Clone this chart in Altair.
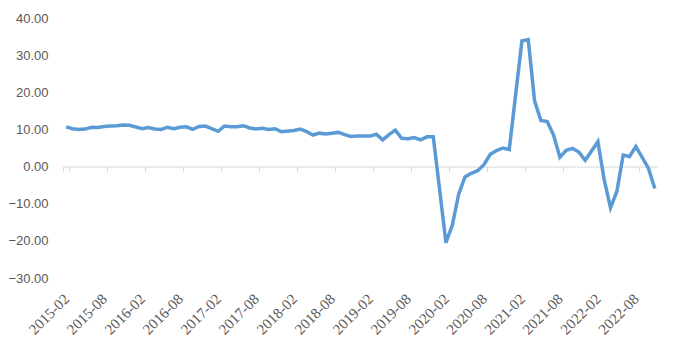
import altair as alt
import pandas as pd

years = list(range(2015, 2023))
months = [f"{y}-{m:02d}" for y in years for m in range(1, 13)]
months = [m for m in months if "2015-02" <= m <= "2022-11"]

# China retail sales YoY (%); January blank (combined Jan-Feb)
values = [
    10.7, 10.2, 10.0, 10.1, 10.6, 10.5, 10.8, 10.9, 11.0, 11.2, 11.1,          # 2015-02..12
    None, 10.2, 10.5, 10.1, 10.0, 10.6, 10.2, 10.6, 10.7, 10.0, 10.8, 10.9,    # 2016
    None, 9.5, 10.9, 10.7, 10.7, 11.0, 10.4, 10.1, 10.3, 10.0, 10.2, 9.4,      # 2017
    None, 9.7, 10.1, 9.4, 8.5, 9.0, 8.8, 9.0, 9.2, 8.6, 8.1, 8.2,              # 2018
    None, 8.2, 8.7, 7.2, 8.6, 9.8, 7.6, 7.5, 7.8, 7.2, 8.0, 8.0,               # 2019
    None, -20.5, -15.8, -7.5, -2.8, -1.8, -1.1, 0.5, 3.3, 4.3, 5.0, 4.6,       # 2020
    None, 33.8, 34.2, 17.7, 12.4, 12.1, 8.5, 2.5, 4.4, 4.9, 3.9, 1.7,          # 2021
    None, 6.7, -3.5, -11.1, -6.7, 3.1, 2.7, 5.4, 2.5, -0.5, -5.9,              # 2022-01..11
]
tick_labels = months[::6]
y_ticks = [-30, -20, -10, 0, 10, 20, 30, 40]

df = pd.DataFrame({"month": months, "value": values}).dropna()

W, H = 595, 260
zero_from_bottom = H * 30 / 70

chart = alt.Chart(df).mark_line(color="#5B9BD5", strokeWidth=3.5).encode(
    x=alt.X(
        "month:O",
        bandPosition=0.5,
        scale=alt.Scale(type="band", domain=months, paddingInner=0, paddingOuter=0),
        axis=alt.Axis(
            values=tick_labels,
            title=None,
            offset=-zero_from_bottom,
            domainColor="#D9D9D9",
            domainWidth=1,
            tickColor="#D9D9D9",
            tickSize=5,
            tickBand="extent",
            labelAngle=-45,
            labelAlign="right",
            labelBaseline="middle",
            labelPadding=zero_from_bottom + 13,
            labelFont="Liberation Serif",
            labelFontSize=15,
            labelColor="#595959",
            grid=False,
        ),
    ),
    y=alt.Y(
        "value:Q",
        scale=alt.Scale(domain=[-30, 40], nice=False, zero=False),
        axis=alt.Axis(
            values=y_ticks,
            format=".2f",
            title=None,
            domain=False,
            ticks=False,
            grid=False,
            labelFont="Liberation Sans",
            labelFontSize=13,
            labelColor="#595959",
            labelPadding=15,
        ),
    ),
).properties(
    width=W,
    height=H,
    autosize=alt.AutoSizeParams(type="none"),
    padding={"left": 63, "top": 18, "right": 22, "bottom": 75},
).configure(background="white").configure_view(strokeWidth=0)

chart.save("out.html", embed_options={"renderer": "svg", "actions": False})
